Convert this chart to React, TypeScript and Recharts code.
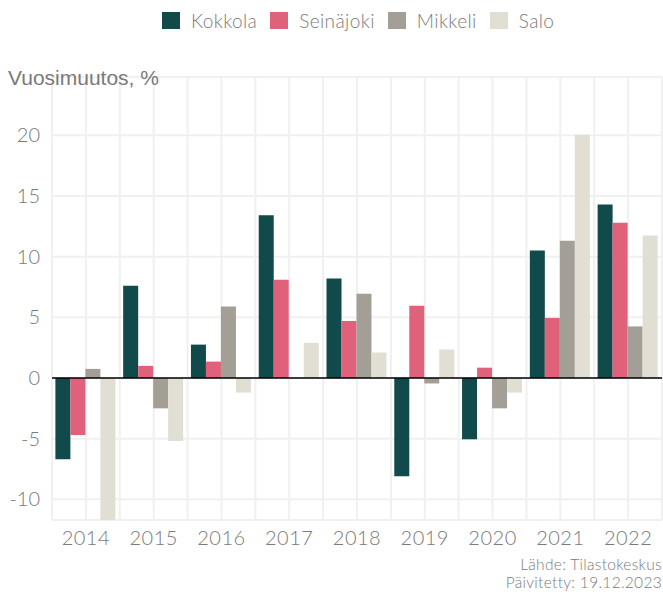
import { BarChart, Bar, XAxis, YAxis, CartesianGrid, ReferenceLine } from "recharts";

const years = ["2014", "2015", "2016", "2017", "2018", "2019", "2020", "2021", "2022"];
const kokkola = [-6.7, 7.6, 2.75, 13.4, 8.2, -8.1, -5.05, 10.5, 14.3];
const seinajoki = [-4.7, 1.0, 1.35, 8.1, 4.7, 5.95, 0.85, 4.95, 12.8];
const mikkeli = [0.75, -2.5, 5.9, null, 6.95, -0.45, -2.5, 11.3, 4.25];
const salo = [-13.5, -5.2, -1.2, 2.9, 2.1, 2.35, -1.2, 20.05, 11.75];
const yTicks = [-10, -5, 0, 5, 10, 15, 20];

const series = [
  { key: "Kokkola", values: kokkola, color: "#104a4b" },
  { key: "Seinäjoki", values: seinajoki, color: "#e0627a" },
  { key: "Mikkeli", values: mikkeli, color: "#a39f96" },
  { key: "Salo", values: salo, color: "#e1ded4" },
];

const data = years.map((year, i) => {
  const row: Record<string, string | number | null> = { year };
  series.forEach((s) => (row[s.key] = s.values[i]));
  return row;
});

const textColor = "#7a7a7a";
const font = "Lato, 'Noto Sans', sans-serif";

// grid lines at category centres and boundaries
const verticalLines = ({ offset }: any) => {
  const pts: number[] = [];
  const step = offset.width / (years.length * 2);
  for (let i = 0; i <= years.length * 2; i++) pts.push(offset.left + i * step);
  return pts;
};

export default function App() {
  return (
    <div style={{ position: "absolute", left: 0, top: 0, width: 663, height: 592, background: "#fff", fontFamily: font }}>
      <div style={{ position: "absolute", left: 162, top: 11, display: "flex", alignItems: "center" }}>
        {series.map((s) => (
          <div key={s.key} style={{ display: "flex", alignItems: "center", marginRight: 13 }}>
            <div style={{ width: 18, height: 17, background: s.color, marginRight: 11 }} />
            <span style={{ fontSize: 19, fontWeight: 300, color: textColor, lineHeight: "19px", letterSpacing: 0.4 }}>{s.key}</span>
          </div>
        ))}
      </div>
      <BarChart
        width={663}
        height={592}
        data={data}
        margin={{ top: 77, right: 1, bottom: 42, left: 0 }}
        barCategoryGap="5%"
        barGap={0}
      >
        <CartesianGrid stroke="#f0f0f0" strokeWidth={2} verticalCoordinatesGenerator={verticalLines} />
        <XAxis
          dataKey="year"
          axisLine={false}
          tickLine={false}
          tickSize={0}
          tickMargin={11}
          height={30}
          tick={{ fill: textColor, fontSize: 20, fontFamily: font, fontWeight: 300, letterSpacing: 0.5 }}
        />
        <YAxis
          domain={[-11.7, 24.8]}
          ticks={yTicks}
          allowDataOverflow
          axisLine={false}
          tickLine={false}
          tickSize={0}
          tickMargin={12}
          width={52}
          tick={{ fill: textColor, fontSize: 20, fontFamily: font, fontWeight: 300 }}
        />
        {series.map((s) => (
          <Bar key={s.key} dataKey={s.key} fill={s.color} isAnimationActive={false} />
        ))}
        <ReferenceLine y={0} stroke="#000" strokeWidth={1.5} />
      </BarChart>
      <svg width={663} height={592} style={{ position: "absolute", left: 0, top: 0, pointerEvents: "none" }}>
        <text x={8} y={85} fontSize={21} fill={textColor} fontFamily="'Liberation Sans', Arial, sans-serif">
          Vuosimuutos, %
        </text>
        <text x={662} y={570} fontSize={15.5} fontWeight={300} fill={textColor} textAnchor="end" fontFamily={font} letterSpacing={0.3}>
          Lähde: Tilastokeskus
        </text>
        <text x={662} y={588} fontSize={15.5} fontWeight={300} fill={textColor} textAnchor="end" fontFamily={font} letterSpacing={0.3}>
          Päivitetty: 19.12.2023
        </text>
      </svg>
    </div>
  );
}
